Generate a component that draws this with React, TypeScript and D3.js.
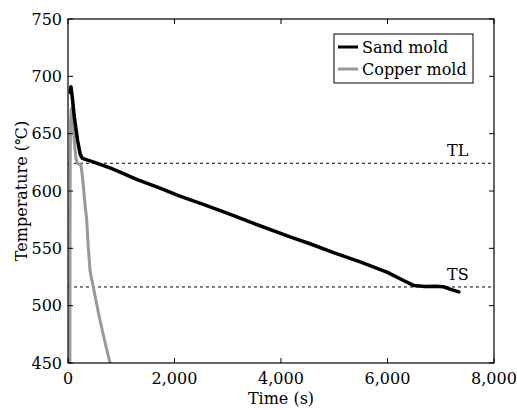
import React from "react";
import * as d3 from "d3";

const xTicks = [0, 2000, 4000, 6000, 8000];
const yTicks = [450, 500, 550, 600, 650, 700, 750];
const seriesNames = ["Sand mold", "Copper mold"];
const seriesColors = ["#000000", "#999999"];

const sandTime = [40, 55, 80, 120, 180, 230, 270, 500, 800, 1000, 1300, 1728, 2100, 2500, 3000, 3500, 4170, 4545, 5000, 5500, 6000, 6300, 6500, 6700, 6900, 7050, 7200, 7340];
const sandTemp = [686, 691, 682, 664, 644, 632, 628.5, 625, 620, 616, 610, 602.5, 595.5, 589, 580.5, 571.5, 560, 554, 546, 538, 529, 522, 517.5, 516.8, 517, 516.5, 514, 512];

const copperTime = [36, 38, 42, 48, 60, 80, 95, 120, 150, 180, 240, 260, 287, 320, 351, 380, 413, 440, 475, 540, 600, 700, 790];
const copperTemp = [450, 560, 630, 660, 671, 673, 662, 642, 628, 624, 623, 617, 605, 588, 575, 552, 531, 524, 516.5, 501, 487.5, 467, 450];

const TL = 624.2;
const TS = 516.3;

const W = 517, H = 410;
const L = 68, R = 494, T = 19, B = 363;
const FONT = "'DejaVu Serif', serif";

export default function App() {
  const x = d3.scaleLinear().domain([0, 8000]).range([L, R]);
  const y = d3.scaleLinear().domain([450, 750]).range([B, T]);
  const fmt = d3.format(",");
  const lineLin = d3
    .line<[number, number]>()
    .x((d) => x(d[0]))
    .y((d) => y(d[1]));
  const sand: [number, number][] = sandTime.map((t, i) => [t, sandTemp[i]]);
  const copper: [number, number][] = copperTime.map((t, i) => [t, copperTemp[i]]);

  return (
    <svg width={W} height={H} style={{ position: "absolute", left: 0, top: 0, background: "#fff" }} fontFamily={FONT}>
      <rect x={0} y={0} width={W} height={H} fill="#fff" />
      <line x1={L} x2={R} y1={y(TL)} y2={y(TL)} stroke="#000" strokeWidth={1} strokeDasharray="3,3" />
      <line x1={L} x2={R} y1={y(TS)} y2={y(TS)} stroke="#000" strokeWidth={1} strokeDasharray="3,3" />
      <text x={447} y={y(TL) - 7} fontSize={16}>TL</text>
      <text x={447} y={y(TS) - 7} fontSize={16}>TS</text>
      <defs>
        <clipPath id="plot">
          <rect x={L} y={T} width={R - L} height={B - T} />
        </clipPath>
      </defs>
      <g clipPath="url(#plot)">
        <path d={lineLin(copper) || ""} fill="none" stroke={seriesColors[1]} strokeWidth={3} strokeLinejoin="round" />
        <path d={lineLin(sand) || ""} fill="none" stroke={seriesColors[0]} strokeWidth={3.5} strokeLinejoin="round" strokeLinecap="round" />
      </g>
      <rect x={L} y={T} width={R - L} height={B - T} fill="none" stroke="#000" strokeWidth={1.2} />
      {xTicks.map((t) => (
        <g key={"x" + t}>
          <line x1={x(t)} x2={x(t)} y1={B} y2={B - 5} stroke="#000" />
          <line x1={x(t)} x2={x(t)} y1={T} y2={T + 5} stroke="#000" />
          <text x={x(t)} y={384} textAnchor="middle" fontSize={16}>{fmt(t)}</text>
        </g>
      ))}
      {yTicks.map((t) => (
        <g key={"y" + t}>
          <line x1={L} x2={L + 5} y1={y(t)} y2={y(t)} stroke="#000" />
          <line x1={R} x2={R - 5} y1={y(t)} y2={y(t)} stroke="#000" />
          <text x={62} y={y(t)} textAnchor="end" dominantBaseline="central" fontSize={16}>{t}</text>
        </g>
      ))}
      <text x={(L + R) / 2} y={404} textAnchor="middle" fontSize={16}>Time (s)</text>
      <text transform={`translate(27,${(T + B) / 2}) rotate(-90)`} textAnchor="middle" fontSize={16}>Temperature (℃)</text>
      <rect x={334} y={34} width={139} height={49} fill="#fff" stroke="#000" strokeWidth={1} />
      {seriesNames.map((n, i) => (
        <g key={n}>
          <line x1={338} x2={358} y1={47 + i * 22} y2={47 + i * 22} stroke={seriesColors[i]} strokeWidth={3} />
          <text x={362} y={47 + i * 22} dominantBaseline="central" fontSize={16}>{n}</text>
        </g>
      ))}
    </svg>
  );
}
